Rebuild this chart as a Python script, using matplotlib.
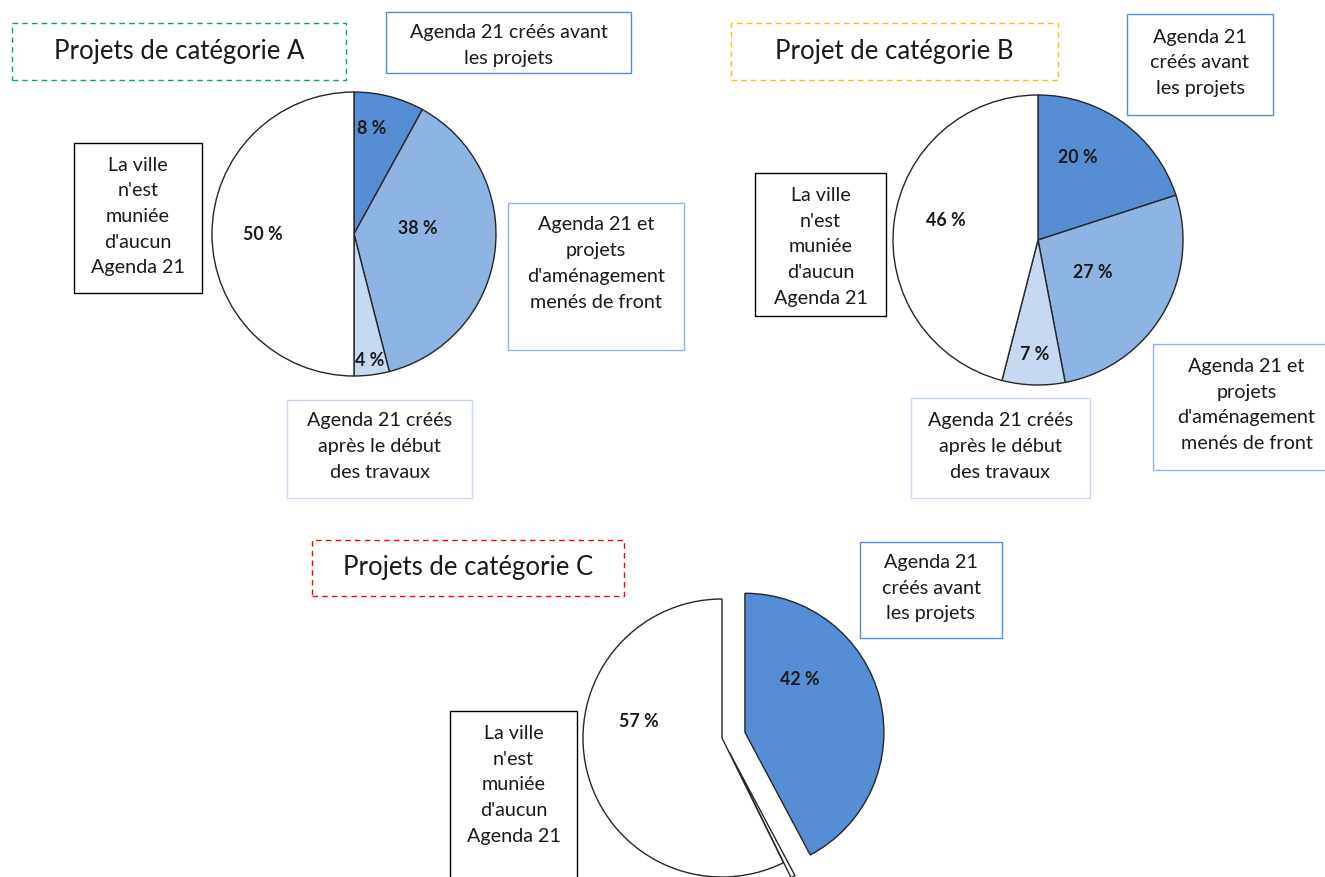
import matplotlib.pyplot as plt
from matplotlib.patches import Rectangle
import numpy as np

# Données (pourcentages)
valeurs_a = [8, 38, 4, 50]
valeurs_b = [20, 27, 7, 46]
valeurs_c = [42, 0.5, 57]

titre_a = 'Projets de catégorie A'
titre_b = 'Projet de catégorie B'
titre_c = 'Projets de catégorie C'

txt_avant_1 = 'Agenda 21 créés avant\nles projets'
txt_avant_3 = 'Agenda 21\ncréés avant\nles projets'
txt_front = "Agenda 21 et\nprojets\nd'aménagement\nmenés de front"
txt_apres = 'Agenda 21 créés\naprès le début\ndes travaux'
txt_aucun = "La ville\nn'est\nmuniée\nd'aucun\nAgenda 21"

# Couleurs
BLEU_FONCE = '#558ED5'
BLEU_MOYEN = '#8EB4E3'
BLEU_CLAIR = '#C6D9F1'
BLANC = '#FFFFFF'
CONTOUR = '#262626'

W, H = 1325, 877
plt.rcParams['font.family'] = ['Lato', 'DejaVu Sans']

fig = plt.figure(figsize=(W / 100, H / 100), dpi=100)
ax = fig.add_axes([0, 0, 1, 1])


def Y(y):
    return H - y


def camembert(valeurs, couleurs, cx, cy, r, explode, r_lab, d_ang, afficher):
    # explode de matplotlib est en unités de données : on le met à l'échelle du rayon
    expl = None if explode is None else [e * r for e in explode]
    wedges, _ = ax.pie(valeurs, colors=couleurs, startangle=90, counterclock=False,
                       center=(cx, Y(cy)), radius=r, explode=expl, frame=True,
                       wedgeprops=dict(edgecolor=CONTOUR, linewidth=1.0))
    for i, (w, v) in enumerate(zip(wedges, valeurs)):
        if not afficher[i]:
            continue
        ang = np.deg2rad((w.theta1 + w.theta2) / 2 + d_ang[i])
        x0, y0 = w.center
        ax.text(x0 + r_lab[i] * r * np.cos(ang), y0 + r_lab[i] * r * np.sin(ang),
                f'{v:g} %', ha='center', va='center', fontsize=12.8,
                fontweight='bold', color='#1a1a1a', zorder=5)


def boite(x0, y0, x1, y1, couleur, texte, ty, fs=14.2, ls='-', lw=1.0):
    ax.add_patch(Rectangle((x0, Y(y1)), x1 - x0, y1 - y0, facecolor='white',
                           edgecolor=couleur, linestyle=ls, linewidth=lw, zorder=3))
    ax.text((x0 + x1) / 2, Y(ty), texte, ha='center', va='center', fontsize=fs,
            linespacing=1.62, color='#1a1a1a', zorder=4)


# Catégorie A
camembert(valeurs_a, [BLEU_FONCE, BLEU_MOYEN, BLEU_CLAIR, BLANC], 354, 234, 142,
          None, [0.75, 0.45, 0.9, 0.64], [5, 12, 0, 0], [1, 1, 1, 1])
boite(12, 23, 346, 80, '#00B050', titre_a, 52, fs=18.5, ls=(0, (4, 3)))
boite(386, 12, 631, 73, BLEU_FONCE, txt_avant_1, 45.5)
boite(74, 143, 202, 293, 'black', txt_aucun, 216.5)
boite(508, 203, 684, 350, BLEU_MOYEN, txt_front, 263.5)
boite(287, 400, 472, 498, BLEU_CLAIR, txt_apres, 446.5)

# Catégorie B
camembert(valeurs_b, [BLEU_FONCE, BLEU_MOYEN, BLEU_CLAIR, BLANC], 1038, 240, 145,
          None, [0.63, 0.44, 0.79, 0.65], [10, 0, 0, -5], [1, 1, 1, 1])
boite(731, 23, 1058, 80, '#FFC000', titre_b, 52, fs=18.5, ls=(0, (4, 3)))
boite(1127, 14, 1273, 115, BLEU_FONCE, txt_avant_3, 63)
boite(755, 173, 886, 316, 'black', txt_aucun, 247)
boite(1153, 344, 1340, 470, BLEU_MOYEN, txt_front, 405)
boite(911, 398, 1090, 498, BLEU_CLAIR, txt_apres, 446.5)

# Catégorie C
camembert(valeurs_c, [BLEU_FONCE, BLANC, BLANC], 722, 738, 139,
          [0.17, 0.12, 0], [0.55, 0, 0.61], [30, 0, -24], [1, 0, 1])
boite(312, 540, 624, 596, '#FF0000', titre_c, 567, fs=18.5, ls=(0, (4, 3)))
boite(860, 542, 1002, 638, BLEU_FONCE, txt_avant_3, 588)
boite(450, 711, 577, 900, 'black', txt_aucun, 785)

ax.set_xlim(0, W)
ax.set_ylim(0, H)
ax.set_aspect('equal')
ax.axis('off')

fig.savefig('out.png', dpi=100, facecolor='white')
